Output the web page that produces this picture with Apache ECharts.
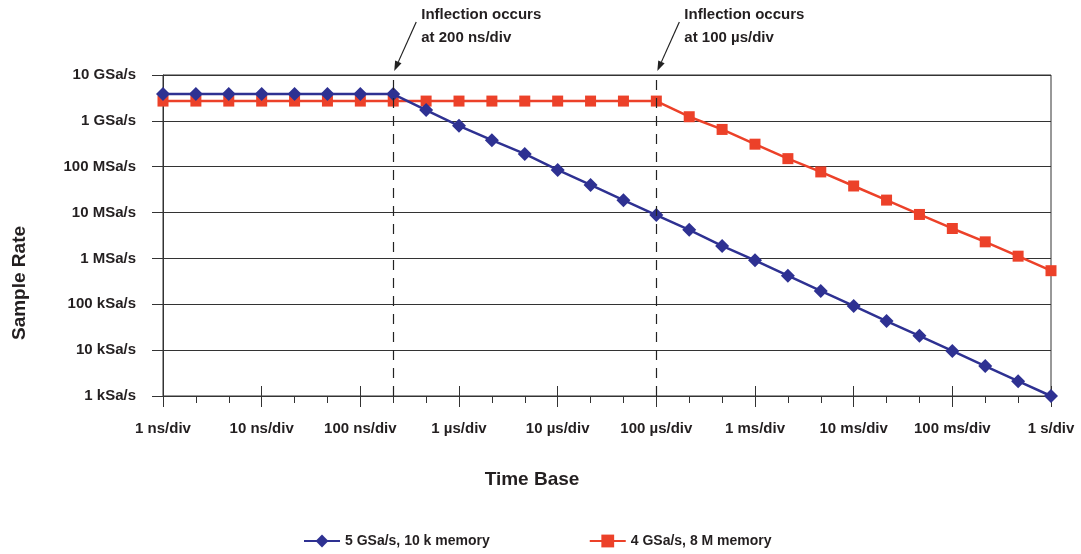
<!DOCTYPE html>
<html style="height: 100%">
<head>
<meta charset="utf-8">
<script src="https://cdn.jsdelivr.net/npm/echarts@6/dist/echarts.min.js"></script>
</head>
<body style="height: 100%; margin: 0; background: #fff">
<div id="container" style="width: 1081px; height: 554px"></div>
<script type="text/javascript">
// time base steps, 1-2-5 per decade
var timeBase = [
    '1 ns/div', '2 ns/div', '5 ns/div',
    '10 ns/div', '20 ns/div', '50 ns/div',
    '100 ns/div', '200 ns/div', '500 ns/div',
    '1 µs/div', '2 µs/div', '5 µs/div',
    '10 µs/div', '20 µs/div', '50 µs/div',
    '100 µs/div', '200 µs/div', '500 µs/div',
    '1 ms/div', '2 ms/div', '5 ms/div',
    '10 ms/div', '20 ms/div', '50 ms/div',
    '100 ms/div', '200 ms/div', '500 ms/div',
    '1 s/div'
];

var rateLabels = ['1 kSa/s', '10 kSa/s', '100 kSa/s', '1 MSa/s', '10 MSa/s', '100 MSa/s', '1 GSa/s', '10 GSa/s'];

// 5 GSa/s, 10 k memory
var blueRate = [
    3.85e9, 3.85e9, 3.85e9, 3.85e9, 3.85e9, 3.85e9, 3.85e9, 3.85e9,
    1.72e9, 7.8e8, 3.8e8, 1.9e8, 8.5e7, 4.0e7, 1.86e7, 8.8e6,
    4.2e6, 1.87e6, 9.1e5, 4.2e5, 1.95e5, 9.2e4, 4.3e4, 2.05e4,
    9.6e3, 4.5e3, 2.1e3, 1.0e3
];

// 4 GSa/s, 8 M memory
var redRate = [
    2.7e9, 2.7e9, 2.7e9, 2.7e9, 2.7e9, 2.7e9, 2.7e9, 2.7e9,
    2.7e9, 2.7e9, 2.7e9, 2.7e9, 2.7e9, 2.7e9, 2.7e9, 2.7e9,
    1.23e9, 6.5e8, 3.1e8, 1.5e8, 7.7e7, 3.8e7, 1.87e7, 9.1e6,
    4.5e6, 2.3e6, 1.12e6, 5.4e5
];

var inflections = [
    { at: '200 ns/div', lines: ['Inflection occurs', 'at 200 ns/div'] },
    { at: '100 µs/div', lines: ['Inflection occurs', 'at 100 µs/div'] }
];

var FONT = '"Liberation Sans Narrow", "Liberation Sans", Arial, sans-serif';
var INK = '#231f20';
var BLUE = '#2e3192';
var RED = '#ec4129';

var dom = document.getElementById('container');
var myChart = echarts.init(dom, null, { renderer: 'canvas' });

function decadeTick(idx) {
    return idx % 3 === 0;
}

var baseX = {
    type: 'category',
    data: timeBase,
    boundaryGap: false,
    position: 'bottom',
    axisLine: { show: false, onZero: false },
    axisLabel: { show: false },
    splitLine: { show: false }
};

var option = {
    animation: false,
    textStyle: { fontFamily: FONT },
    grid: {
        left: 163, right: 30, top: 75, bottom: 158,
        show: true, borderColor: '#333', borderWidth: 1
    },
    xAxis: [
        {
            type: 'category',
            data: timeBase,
            boundaryGap: false,
            position: 'bottom',
            axisLine: { onZero: false, lineStyle: { color: '#333', width: 1 } },
            axisTick: { alignWithLabel: true, interval: 0, length: 7, lineStyle: { color: '#333' } },
            axisLabel: {
                interval: function (idx) { return decadeTick(idx); },
                margin: 25,
                color: INK,
                fontSize: 15,
                fontWeight: 'bold',
                fontFamily: FONT
            },
            splitLine: { show: false }
        },
        Object.assign({}, baseX, {
            axisTick: { interval: function (idx) { return decadeTick(idx); }, length: 11, lineStyle: { color: '#333' } }
        }),
        Object.assign({}, baseX, {
            axisTick: { inside: true, interval: function (idx) { return decadeTick(idx); }, length: 10, lineStyle: { color: '#333' } }
        })
    ],
    yAxis: {
        type: 'log',
        logBase: 10,
        min: 1e3,
        max: 1e10,
        splitNumber: 7,
        axisLine: { show: true, lineStyle: { color: '#333', width: 1 } },
        axisTick: { show: true, length: 11, lineStyle: { color: '#333' } },
        splitLine: { show: true, lineStyle: { color: '#333', width: 1 } },
        axisLabel: {
            margin: 27,
            color: INK,
            fontSize: 15,
            fontWeight: 'bold',
            fontFamily: FONT,
            formatter: function (v) {
                return rateLabels[Math.round(Math.log10(v)) - 3];
            }
        }
    },
    legend: {
        left: 298,
        top: 529,
        itemWidth: 36,
        itemHeight: 16,
        itemGap: 99,
        textStyle: { color: INK, fontSize: 14, fontWeight: 'bold', fontFamily: FONT },
        data: ['5 GSa/s, 10 k memory', '4 GSa/s, 8 M memory']
    },
    series: [
        {
            name: '4 GSa/s, 8 M memory',
            type: 'line',
            data: redRate,
            symbol: 'rect',
            symbolSize: 11,
            color: RED,
            lineStyle: { color: RED, width: 2.5 },
            itemStyle: { color: RED },
            z: 3,
            markLine: {
                silent: true,
                symbol: 'none',
                label: { show: false },
                lineStyle: { color: '#222', type: [10, 8], width: 1.2 },
                data: inflections.map(function (f) { return { xAxis: f.at }; })
            }
        },
        {
            name: '5 GSa/s, 10 k memory',
            type: 'line',
            data: blueRate,
            symbol: 'diamond',
            symbolSize: 14,
            color: BLUE,
            lineStyle: { color: BLUE, width: 2.5 },
            itemStyle: { color: BLUE },
            z: 4
        }
    ]
};

myChart.setOption(option);

// annotations: axis titles and the inflection arrows, placed from the axes
var graphics = [
    {
        type: 'text',
        x: 532, y: 480,
        style: { text: 'Time Base', fill: INK, font: 'bold 19px ' + FONT, align: 'center', verticalAlign: 'middle' }
    },
    {
        type: 'text',
        x: 20, y: 283, rotation: Math.PI / 2,
        style: { text: 'Sample Rate', fill: INK, font: 'bold 19px ' + FONT, align: 'center', verticalAlign: 'middle' }
    }
];

inflections.forEach(function (f) {
    var p = myChart.convertToPixel({ xAxisIndex: 0, yAxisIndex: 0 }, [f.at, 1e10]);
    var tipX = p[0] + 1, tipY = p[1] - 4;
    var sx = p[0] + 23, sy = 22;
    var dx = tipX - sx, dy = tipY - sy;
    var len = Math.sqrt(dx * dx + dy * dy);
    var ux = dx / len, uy = dy / len;
    var hl = 10, hw = 3.5;
    var bx = tipX - ux * hl, by = tipY - uy * hl;
    graphics.push({
        type: 'line',
        shape: { x1: sx, y1: sy, x2: bx, y2: by },
        style: { stroke: '#222', lineWidth: 1.2 }
    });
    graphics.push({
        type: 'polygon',
        shape: { points: [[tipX, tipY], [bx - uy * hw, by + ux * hw], [bx + uy * hw, by - ux * hw]] },
        style: { fill: '#222' }
    });
    graphics.push({
        type: 'text',
        x: p[0] + 28, y: 3,
        style: { text: f.lines.join('\n'), fill: INK, font: 'bold 15px ' + FONT, lineHeight: 23, verticalAlign: 'top' }
    });
});

myChart.setOption({ graphic: graphics });
</script>
</body>
</html>
